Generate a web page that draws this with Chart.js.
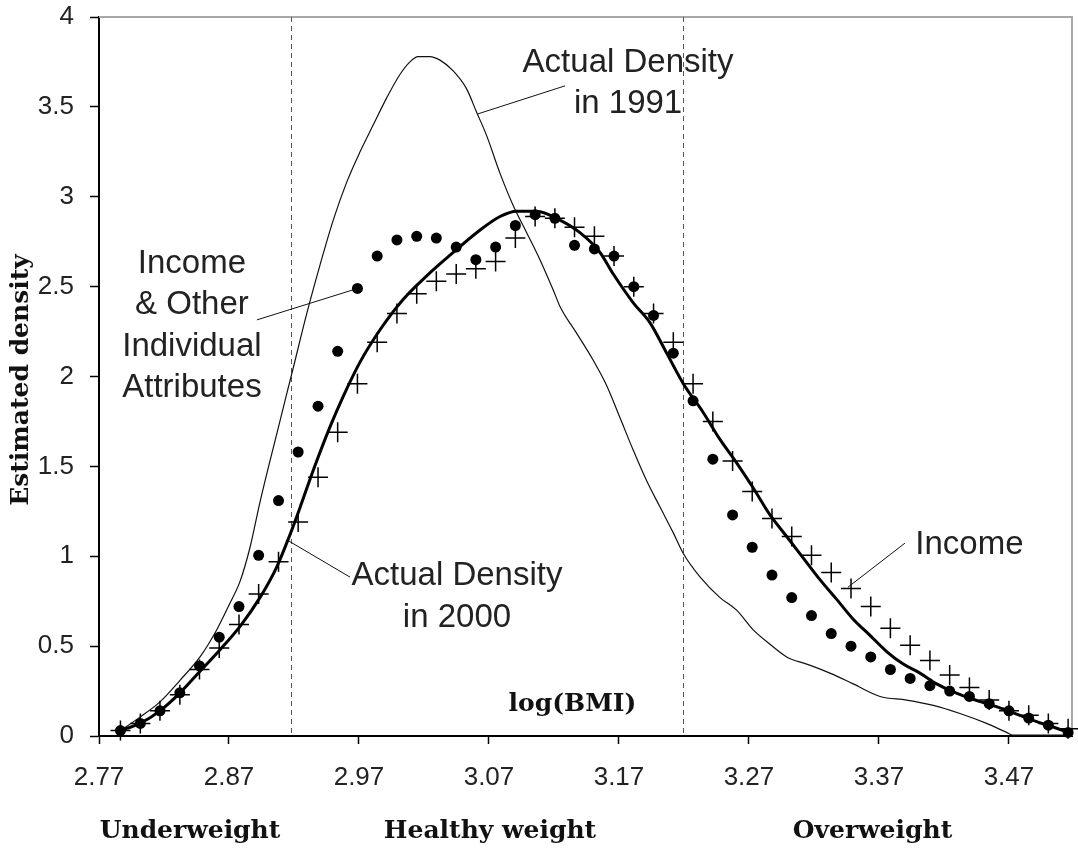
<!DOCTYPE html>
<html lang="en">
<head>
  <meta charset="UTF-8">
  <title>Estimated density of log(BMI)</title>
  <style>
    body {
      margin: 0;
      background-color: #ffffff;
    }
    .chartBox {
      position: relative;
      width: 1078px;
      height: 849px;
    }
  </style>
</head>
<body>
<script src="https://cdn.jsdelivr.net/npm/chart.js"></script>

<div class="chartBox">
  <canvas id="densityChart"></canvas>
</div>

<script>
  // axis ticks
  const xTicks = [2.77, 2.87, 2.97, 3.07, 3.17, 3.27, 3.37, 3.47];
  const yTicks = [0, 0.5, 1, 1.5, 2, 2.5, 3, 3.5, 4];

  // BMI cut-offs: log(18.5) and log(25)
  const cutoffs = [2.9178, 3.2189];

  // x grid of the two simulated densities (markers)
  const markerX = [2.7865, 2.8018, 2.8169, 2.8322, 2.8473, 2.8625, 2.8777, 2.8928, 2.9081, 2.9232,
    2.9385, 2.9536, 2.9688, 2.9840, 2.9992, 3.0144, 3.0295, 3.0448, 3.0599, 3.0751,
    3.0903, 3.1055, 3.1207, 3.1358, 3.1511, 3.1662, 3.1814, 3.1966, 3.2118, 3.2270,
    3.2422, 3.2574, 3.2725, 3.2877, 3.3029, 3.3181, 3.3333, 3.3485, 3.3637, 3.3788,
    3.3940, 3.4092, 3.4244, 3.4396, 3.4548, 3.4700, 3.4852, 3.5003, 3.5155];

  // Income & Other Individual Attributes (dots)
  const incomeOther = [0.03, 0.07, 0.14, 0.24, 0.39, 0.55, 0.72, 1.005, 1.31, 1.58,
    1.835, 2.14, 2.49, 2.67, 2.76, 2.78, 2.77, 2.72, 2.65, 2.72,
    2.84, 2.90, 2.88, 2.73, 2.71, 2.67, 2.50, 2.34, 2.13, 1.865,
    1.54, 1.23, 1.05, 0.895, 0.77, 0.67, 0.57, 0.50, 0.44, 0.37,
    0.32, 0.28, 0.25, 0.22, 0.18, 0.14, 0.10, 0.06, 0.02];

  // Income (crosses)
  const income = [0.03, 0.07, 0.14, 0.23, 0.37, 0.49, 0.62, 0.79, 0.97, 1.19,
    1.44, 1.69, 1.96, 2.19, 2.35, 2.46, 2.53, 2.57, 2.60, 2.64,
    2.77, 2.89, 2.88, 2.83, 2.78, 2.67, 2.50, 2.35, 2.19, 1.96,
    1.75, 1.53, 1.36, 1.21, 1.11, 1.006, 0.91, 0.82, 0.72, 0.60,
    0.505, 0.42, 0.34, 0.27, 0.20, 0.14, 0.115, 0.07, 0.04];

  // actual density in 2000 (thick line)
  const x2000 = [2.7865, 2.8015, 2.8169, 2.8323, 2.8477, 2.8631, 2.8785, 2.8938, 2.9067, 2.9169,
    2.9246, 2.9349, 2.9477, 2.9579, 2.9708, 2.9862, 3.0041, 3.0221, 3.0425, 3.0605,
    3.0785, 3.0913, 3.1067, 3.1246, 3.1400, 3.1554, 3.1656, 3.1810, 3.1938, 3.2067,
    3.2195, 3.2348, 3.2477, 3.2605, 3.2733, 3.2862, 3.2990, 3.3118, 3.3246, 3.3375,
    3.3502, 3.3631, 3.3759, 3.3887, 3.4015, 3.4144, 3.4272, 3.4400, 3.4528, 3.4656,
    3.4785, 3.4913, 3.5041, 3.5156];
  const y2000 = [0.03, 0.07, 0.14, 0.24, 0.36, 0.48, 0.61, 0.77, 0.94, 1.12,
    1.27, 1.48, 1.72, 1.89, 2.08, 2.26, 2.43, 2.56, 2.69, 2.80,
    2.89, 2.92, 2.92, 2.87, 2.80, 2.69, 2.57, 2.41, 2.30, 2.13,
    1.96, 1.80, 1.65, 1.52, 1.38, 1.23, 1.11, 0.99, 0.87, 0.76,
    0.65, 0.56, 0.47, 0.40, 0.35, 0.29, 0.245, 0.21, 0.18, 0.15,
    0.115, 0.08, 0.05, 0.02];

  // actual density in 1991 (thin line)
  const x1991 = [2.7865, 2.8015, 2.8169, 2.8323, 2.8477, 2.8605, 2.8708, 2.8785, 2.8862, 2.8938,
    2.9067, 2.9195, 2.9298, 2.9400, 2.9502, 2.9605, 2.9708, 2.9810, 2.9913, 3.0015,
    3.0092, 3.0154, 3.0246, 3.0323, 3.0425, 3.0528, 3.0605, 3.0682, 3.0785, 3.0887,
    3.0990, 3.1092, 3.1195, 3.1246, 3.1375, 3.1502, 3.1605, 3.1708, 3.1810, 3.1913,
    3.2015, 3.2118, 3.2195, 3.2323, 3.2477, 3.2605, 3.2733, 3.2862, 3.2990, 3.3144,
    3.3323, 3.3502, 3.3708, 3.3913, 3.4118, 3.4323, 3.4528, 3.4682, 3.4731, 3.5154];
  const y1991 = [0.03, 0.105, 0.19, 0.31, 0.44, 0.59, 0.74, 0.86, 1.05, 1.30,
    1.68, 2.05, 2.35, 2.62, 2.87, 3.08, 3.25, 3.40, 3.55, 3.68,
    3.75, 3.78, 3.78, 3.76, 3.70, 3.60, 3.47, 3.34, 3.13, 2.95,
    2.80, 2.65, 2.48, 2.39, 2.24, 2.09, 1.95, 1.77, 1.59, 1.42,
    1.275, 1.13, 1.015, 0.885, 0.77, 0.70, 0.59, 0.51, 0.44, 0.40,
    0.35, 0.29, 0.22, 0.20, 0.17, 0.125, 0.07, 0.02, 0.005, 0.005];

  // text labels inside the plot (x, y of first baseline, in data units)
  const notes = [
    { lines: ['Actual Density', 'in 1991'], x: 3.177, y: 3.695 },
    { lines: ['Income', '& Other', 'Individual', 'Attributes'], x: 2.8415, y: 2.576 },
    { lines: ['Actual Density', 'in 2000'], x: 3.0454, y: 0.839 },
    { lines: ['Income'], x: 3.4396, y: 1.012 }
  ];
  // leader lines [x1, y1, x2, y2]
  const pointers = [
    [3.1285, 3.617, 3.0615, 3.461],
    [2.8915, 2.315, 2.9654, 2.482],
    [2.9162, 1.084, 2.9631, 0.884],
    [3.3900, 1.073, 3.3462, 0.828]
  ];
  const bands = ['Underweight', 'Healthy weight', 'Overweight'];
  const bandX = [2.84, 3.0708, 3.365];

  function pairs(xs, ys) {
    return xs.map(function (x, i) { return { x: x, y: ys[i] }; });
  }

  const sansFont = '"Liberation Sans", Arial, sans-serif';
  const serifFont = '"DejaVu Serif", serif';

  const decorPlugin = {
    id: 'decor',
    beforeDatasetsDraw(chart) {
      const ctx = chart.ctx;
      const a = chart.chartArea;
      const xs = chart.scales.x;
      ctx.save();
      // light frame at top and right
      ctx.strokeStyle = '#a8a8a8';
      ctx.lineWidth = 2;
      ctx.beginPath();
      ctx.moveTo(a.left, a.top);
      ctx.lineTo(a.right, a.top);
      ctx.lineTo(a.right, a.bottom);
      ctx.stroke();
      // BMI cut-off lines
      ctx.strokeStyle = '#555';
      ctx.lineWidth = 1;
      ctx.setLineDash([5, 4]);
      cutoffs.forEach(function (c) {
        const px = Math.round(xs.getPixelForValue(c)) + 0.5;
        ctx.beginPath();
        ctx.moveTo(px, a.top);
        ctx.lineTo(px, a.bottom);
        ctx.stroke();
      });
      ctx.restore();
    },
    afterDatasetsDraw(chart) {
      const ctx = chart.ctx;
      const a = chart.chartArea;
      const xs = chart.scales.x;
      const ys = chart.scales.y;
      ctx.save();
      ctx.strokeStyle = '#111';
      ctx.lineWidth = 1;
      pointers.forEach(function (p) {
        ctx.beginPath();
        ctx.moveTo(xs.getPixelForValue(p[0]), ys.getPixelForValue(p[1]));
        ctx.lineTo(xs.getPixelForValue(p[2]), ys.getPixelForValue(p[3]));
        ctx.stroke();
      });

      ctx.fillStyle = '#222';
      ctx.textAlign = 'center';
      ctx.textBaseline = 'alphabetic';
      ctx.font = '33px ' + sansFont;
      notes.forEach(function (n) {
        const px = xs.getPixelForValue(n.x);
        const py = ys.getPixelForValue(n.y);
        n.lines.forEach(function (t, i) {
          ctx.fillText(t, px, py + i * 41.5);
        });
      });

      ctx.fillStyle = '#111';
      ctx.font = 'bold 25px ' + serifFont;
      ctx.fillText('log(BMI)', xs.getPixelForValue(3.1342), ys.getPixelForValue(0.1375));
      bands.forEach(function (b, i) {
        ctx.fillText(b, xs.getPixelForValue(bandX[i]), a.bottom + 102);
      });

      ctx.translate(21, 380);
      ctx.rotate(-Math.PI / 2);
      ctx.textBaseline = 'middle';
      ctx.fillText('Estimated density', 0, 0);
      ctx.restore();
    }
  };

  const config = {
    type: 'scatter',
    data: {
      datasets: [
        {
          label: 'Income & Other Individual Attributes',
          data: pairs(markerX, incomeOther),
          pointStyle: 'circle',
          pointRadius: 5.5,
          backgroundColor: '#000',
          borderColor: '#000',
          borderWidth: 0,
          clip: false
        },
        {
          label: 'Income',
          data: pairs(markerX, income),
          pointStyle: 'cross',
          pointRadius: 10,
          borderColor: '#000',
          borderWidth: 1.5,
          clip: false
        },
        {
          label: 'Actual Density in 2000',
          data: pairs(x2000, y2000),
          showLine: true,
          pointRadius: 0,
          borderColor: '#000',
          borderWidth: 3,
          cubicInterpolationMode: 'monotone'
        },
        {
          label: 'Actual Density in 1991',
          data: pairs(x1991, y1991),
          showLine: true,
          pointRadius: 0,
          borderColor: '#111',
          borderWidth: 1.2,
          cubicInterpolationMode: 'monotone'
        }
      ]
    },
    options: {
      responsive: true,
      maintainAspectRatio: false,
      animation: false,
      layout: { autoPadding: false, padding: { top: 17, right: 6, left: 0, bottom: 0 } },
      plugins: {
        legend: { display: false },
        tooltip: { enabled: false }
      },
      scales: {
        x: {
          type: 'linear',
          min: 2.77,
          max: 3.5185,
          afterBuildTicks: function (s) { s.ticks = xTicks.map(function (v) { return { value: v }; }); },
          afterFit: function (s) {
            s.height = 113;
            s.paddingLeft = 0;
            s.paddingRight = 0;
          },
          ticks: {
            autoSkip: false,
            maxRotation: 0,
            padding: 18,
            color: '#222',
            font: { family: sansFont, size: 26 },
            callback: function (v) { return v.toFixed(2); }
          },
          grid: { drawOnChartArea: false, drawTicks: true, tickLength: 8, tickColor: '#000', tickWidth: 1.5 },
          border: { display: true, color: '#000', width: 2 }
        },
        y: {
          min: 0,
          max: 4,
          afterBuildTicks: function (s) { s.ticks = yTicks.map(function (v) { return { value: v }; }); },
          afterFit: function (s) {
            s.width = 99;
            s.paddingTop = 0;
            s.paddingBottom = 0;
          },
          ticks: {
            padding: 16,
            color: '#222',
            font: { family: sansFont, size: 26 },
            callback: function (v) { return String(v); }
          },
          grid: { drawOnChartArea: false, drawTicks: true, tickLength: 9, tickColor: '#000', tickWidth: 1.5 },
          border: { display: true, color: '#000', width: 2 }
        }
      }
    },
    plugins: [decorPlugin]
  };

  let densityChart = new Chart(
    document.getElementById('densityChart'),
    config
  );
</script>

</body>
</html>
